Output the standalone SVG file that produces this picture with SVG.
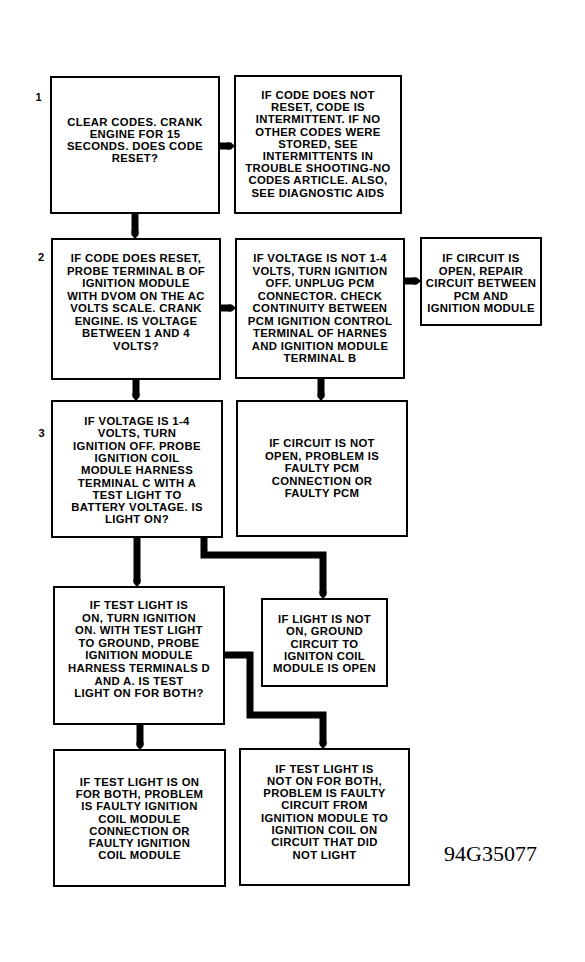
<svg xmlns="http://www.w3.org/2000/svg" width="585" height="962" viewBox="0 0 585 962">
<style>
.box{fill:#fff;stroke:#000;stroke-width:2}
.t{font-family:"Liberation Sans",Arial,sans-serif;font-size:11.3px;font-weight:bold;letter-spacing:0.35px;text-anchor:middle;fill:#000}
.num{font-family:"Liberation Sans",Arial,sans-serif;font-size:11px;font-weight:bold;text-anchor:middle;fill:#000}
.c{fill:none;stroke:#000;stroke-width:7;stroke-linejoin:miter}
.id{font-family:"Liberation Serif","Times New Roman",serif;font-size:22px;fill:#000}
</style>
<defs>
<marker id="tip" markerUnits="userSpaceOnUse" markerWidth="8" markerHeight="8" viewBox="0 0 8 8" refX="3" refY="4" orient="auto">
<path d="M0,0.5 L4,0.5 L8,4 L4,7.5 L0,7.5Z" fill="#000"/>
</marker>
</defs>
<rect width="585" height="962" fill="#fff"/>
<g id="connectors">
<path class="c" d="M135,213 V234" marker-end="url(#tip)"/>
<path class="c" d="M219,146 H230" marker-end="url(#tip)"/>
<path class="c" d="M220,308 H231" marker-end="url(#tip)"/>
<path class="c" d="M404,281 H416" marker-end="url(#tip)"/>
<path class="c" d="M136,379 V396" marker-end="url(#tip)"/>
<path class="c" d="M321,378 V396" marker-end="url(#tip)"/>
<path class="c" d="M137,537 V582" marker-end="url(#tip)"/>
<path class="c" d="M204,537 V555 H323 V594" marker-end="url(#tip)"/>
<path class="c" d="M140,724 V745" marker-end="url(#tip)"/>
<path class="c" d="M224,655 H250 V715 H323 V744" marker-end="url(#tip)"/>
</g>
<g id="labels">
<text class="num" x="38.5" y="101">1</text>
<text class="num" x="41" y="261">2</text>
<text class="num" x="41.5" y="437">3</text>
</g>
<g id="b1">
<rect class="box" x="51" y="77" width="168" height="136"/>
<text class="t"><tspan x="135" y="126">CLEAR CODES. CRANK</tspan><tspan x="135" y="138">ENGINE FOR 15</tspan><tspan x="135" y="150">SECONDS. DOES CODE</tspan><tspan x="135" y="162">RESET?</tspan></text>
</g>
<g id="b1b">
<rect class="box" x="235" y="76" width="166" height="137"/>
<text class="t"><tspan x="318" y="99">IF CODE DOES NOT</tspan><tspan x="318" y="111.2">RESET, CODE IS</tspan><tspan x="318" y="123.4">INTERMITTENT. IF NO</tspan><tspan x="318" y="135.6">OTHER CODES WERE</tspan><tspan x="318" y="147.8">STORED, SEE</tspan><tspan x="318" y="160">INTERMITTENTS IN</tspan><tspan x="318" y="172.2">TROUBLE SHOOTING-NO</tspan><tspan x="318" y="184.4">CODES ARTICLE. ALSO,</tspan><tspan x="318" y="196.6">SEE DIAGNOSTIC AIDS</tspan></text>
</g>
<g id="b2">
<rect class="box" x="52" y="239" width="168" height="140"/>
<text class="t"><tspan x="136" y="262">IF CODE DOES RESET,</tspan><tspan x="136" y="274.5">PROBE TERMINAL B OF</tspan><tspan x="136" y="287">IGNITION MODULE</tspan><tspan x="136" y="299.5">WITH DVOM ON THE AC</tspan><tspan x="136" y="312">VOLTS SCALE. CRANK</tspan><tspan x="136" y="324.5">ENGINE. IS VOLTAGE</tspan><tspan x="136" y="337">BETWEEN 1 AND 4</tspan><tspan x="136" y="349.5">VOLTS?</tspan></text>
</g>
<g id="b2b">
<rect class="box" x="236" y="239" width="168" height="139"/>
<text class="t"><tspan x="320" y="262">IF VOLTAGE IS NOT 1-4</tspan><tspan x="320" y="274.5">VOLTS, TURN IGNITION</tspan><tspan x="320" y="287">OFF. UNPLUG PCM</tspan><tspan x="320" y="299.5">CONNECTOR. CHECK</tspan><tspan x="320" y="312">CONTINUITY BETWEEN</tspan><tspan x="320" y="324.5">PCM IGNITION CONTROL</tspan><tspan x="320" y="337">TERMINAL OF HARNES</tspan><tspan x="320" y="349.5">AND IGNITION MODULE</tspan><tspan x="320" y="362">TERMINAL B</tspan></text>
</g>
<g id="b2c">
<rect class="box" x="421" y="238" width="120" height="87"/>
<text class="t"><tspan x="481" y="262">IF CIRCUIT IS</tspan><tspan x="481" y="274.5">OPEN, REPAIR</tspan><tspan x="481" y="287">CIRCUIT BETWEEN</tspan><tspan x="481" y="299.5">PCM AND</tspan><tspan x="481" y="312">IGNITION MODULE</tspan></text>
</g>
<g id="b3">
<rect class="box" x="52" y="401" width="170" height="136"/>
<text class="t"><tspan x="137" y="425">IF VOLTAGE IS 1-4</tspan><tspan x="137" y="437.3">VOLTS, TURN</tspan><tspan x="137" y="449.6">IGNITION OFF. PROBE</tspan><tspan x="137" y="461.9">IGNITION COIL</tspan><tspan x="137" y="474.2">MODULE HARNESS</tspan><tspan x="137" y="486.5">TERMINAL C WITH A</tspan><tspan x="137" y="498.8">TEST LIGHT TO</tspan><tspan x="137" y="511.1">BATTERY VOLTAGE. IS</tspan><tspan x="137" y="523.4">LIGHT ON?</tspan></text>
</g>
<g id="b3b">
<rect class="box" x="237" y="401" width="170" height="135"/>
<text class="t"><tspan x="322" y="447">IF CIRCUIT IS NOT</tspan><tspan x="322" y="459.5">OPEN, PROBLEM IS</tspan><tspan x="322" y="472">FAULTY PCM</tspan><tspan x="322" y="484.5">CONNECTION OR</tspan><tspan x="322" y="497">FAULTY PCM</tspan></text>
</g>
<g id="b4">
<rect class="box" x="54" y="587" width="170" height="137"/>
<text class="t"><tspan x="139" y="609">IF TEST LIGHT IS</tspan><tspan x="139" y="621.6">ON, TURN IGNITION</tspan><tspan x="139" y="634.2">ON. WITH TEST LIGHT</tspan><tspan x="139" y="646.8">TO GROUND, PROBE</tspan><tspan x="139" y="659.4">IGNITION MODULE</tspan><tspan x="139" y="672">HARNESS TERMINALS D</tspan><tspan x="139" y="684.6">AND A. IS TEST</tspan><tspan x="139" y="697.2">LIGHT ON FOR BOTH?</tspan></text>
</g>
<g id="b4b">
<rect class="box" x="262" y="599" width="125" height="87"/>
<text class="t"><tspan x="324.5" y="623">IF LIGHT IS NOT</tspan><tspan x="324.5" y="635.3">ON, GROUND</tspan><tspan x="324.5" y="647.6">CIRCUIT TO</tspan><tspan x="324.5" y="659.9">IGNITON COIL</tspan><tspan x="324.5" y="672.2">MODULE IS OPEN</tspan></text>
</g>
<g id="b5">
<rect class="box" x="54" y="750" width="171" height="136"/>
<text class="t"><tspan x="139.5" y="786">IF TEST LIGHT IS ON</tspan><tspan x="139.5" y="798.2">FOR BOTH, PROBLEM</tspan><tspan x="139.5" y="810.4">IS FAULTY IGNITION</tspan><tspan x="139.5" y="822.6">COIL MODULE</tspan><tspan x="139.5" y="834.8">CONNECTION OR</tspan><tspan x="139.5" y="847">FAULTY IGNITION</tspan><tspan x="139.5" y="859.2">COIL MODULE</tspan></text>
</g>
<g id="b5b">
<rect class="box" x="240" y="749" width="169" height="136"/>
<text class="t"><tspan x="324.5" y="772.5">IF TEST LIGHT IS</tspan><tspan x="324.5" y="784.8">NOT ON FOR BOTH,</tspan><tspan x="324.5" y="797.1">PROBLEM IS FAULTY</tspan><tspan x="324.5" y="809.4">CIRCUIT FROM</tspan><tspan x="324.5" y="821.7">IGNITION MODULE TO</tspan><tspan x="324.5" y="834">IGNITION COIL ON</tspan><tspan x="324.5" y="846.3">CIRCUIT THAT DID</tspan><tspan x="324.5" y="858.6">NOT LIGHT</tspan></text>
</g>
<text class="id" x="444" y="861">94G35077</text>
</svg>
